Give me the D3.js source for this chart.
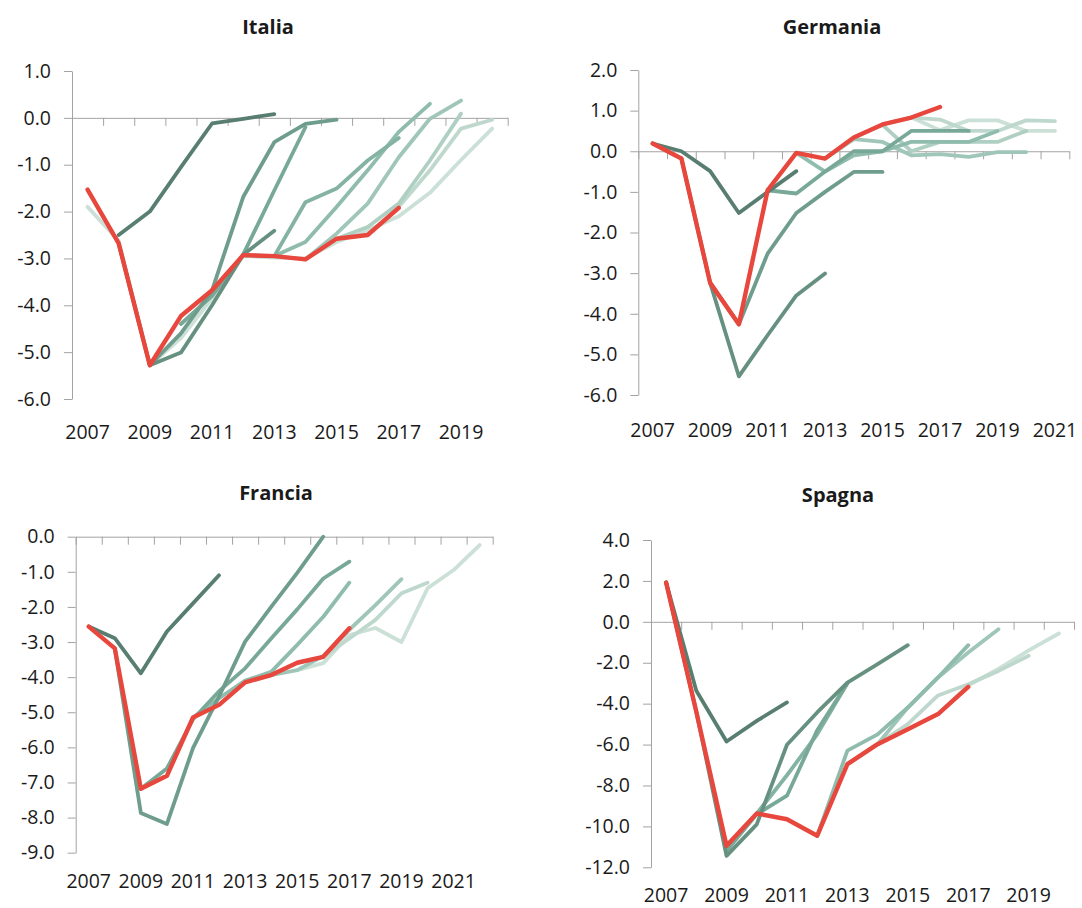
<!DOCTYPE html>
<html>
<head>
<meta charset="utf-8">
<script src="https://cdn.jsdelivr.net/npm/d3@7"></script>
<style>
  body { margin: 0; background: #fff; }
  text { font-family: "Open Sans", sans-serif; fill: #1a1a1a; }
</style>
</head>
<body>
<script>
// ---- data: deficit/PIL, valori effettivi (rosso) e previsioni successive (verde, dalla piu vecchia)

var italiaYears = [2007, 2008, 2009, 2010, 2011, 2012, 2013, 2014, 2015, 2016, 2017, 2018, 2019, 2020];
var italiaActual = [-1.53, -2.68, -5.28, -4.23, -3.68, -2.93, -2.95, -3.02, -2.58, -2.5, -1.92];
var italiaStarts = [2008, 2008, 2009, 2010, 2012, 2013, 2014, 2015, 2016, 2007];
var italiaSeries = [
  [-2.5, -2.0, -1.05, -0.12, -0.02, 0.08],
  [-2.68, -5.28, -5.01, -4.0, -2.92, -2.41],
  [-5.28, -4.6, -3.68, -1.69, -0.52, -0.13, -0.04],
  [-4.4, -3.8, -2.92, -1.55, -0.2],
  [-2.93, -2.95, -1.8, -1.51, -0.91, -0.43],
  [-2.95, -2.65, -1.9, -1.12, -0.3, 0.3],
  [-3.02, -2.47, -1.83, -0.84, -0.02, 0.37],
  [-2.58, -2.33, -1.83, -0.91, 0.09],
  [-2.5, -1.9, -1.12, -0.23, -0.04],
  [-1.9, -2.62, -5.28, -4.7, -3.85, -2.95, -2.98, -3.0, -2.65, -2.4, -2.1, -1.6, -0.9, -0.23]
];

var germaniaYears = [2007, 2008, 2009, 2010, 2011, 2012, 2013, 2014, 2015, 2016, 2017, 2018, 2019, 2020, 2021];
var germaniaActual = [0.19, -0.18, -3.24, -4.26, -0.96, -0.04, -0.18, 0.34, 0.66, 0.83, 1.09];
var germaniaStarts = [2007, 2008, 2009, 2011, 2012, 2013, 2014, 2015, 2016];
var germaniaSeries = [
  [0.19, 0.0, -0.49, -1.52, -1.0, -0.49],
  [-0.18, -3.24, -5.54, -4.53, -3.55, -3.01],
  [-3.24, -4.26, -2.52, -1.52, -1.0, -0.51, -0.51],
  [-0.96, -1.04, -0.5, 0.0, 0.0, 0.5, 0.5, 0.5],
  [-0.04, -0.5, -0.1, 0.0, 0.23, 0.23, 0.23, 0.5],
  [-0.18, 0.3, 0.23, -0.1, -0.07, -0.14, -0.02, -0.02],
  [0.34, 0.65, 0.0, 0.23, 0.23, 0.23, 0.5],
  [0.66, 0.83, 0.78, 0.5, 0.5, 0.76, 0.74],
  [0.83, 0.52, 0.76, 0.76, 0.5, 0.5]
];

var franciaYears = [2007, 2008, 2009, 2010, 2011, 2012, 2013, 2014, 2015, 2016, 2017, 2018, 2019, 2020, 2021, 2022];
var franciaActual = [-2.56, -3.18, -7.18, -6.81, -5.15, -4.79, -4.15, -3.94, -3.59, -3.42, -2.61];
var franciaStarts = [2007, 2008, 2009, 2011, 2014, 2015, 2015];
var franciaSeries = [
  [-2.56, -2.89, -3.89, -2.7, -1.9, -1.1],
  [-3.18, -7.87, -8.18, -6.02, -4.55, -2.99, -2.0, -1.03, 0.0],
  [-7.18, -6.6, -5.2, -4.4, -3.75, -2.9, -2.07, -1.19, -0.71],
  [-5.15, -4.6, -4.1, -3.85, -3.08, -2.28, -1.31],
  [-3.94, -3.8, -3.4, -2.65, -1.95, -1.21],
  [-3.59, -3.42, -2.9, -2.37, -1.61, -1.31],
  [-3.8, -3.6, -2.8, -2.6, -3.0, -1.47, -0.95, -0.24]
];

var spagnaYears = [2007, 2008, 2009, 2010, 2011, 2012, 2013, 2014, 2015, 2016, 2017, 2018, 2019, 2020];
var spagnaActual = [1.92, -4.4, -10.95, -9.37, -9.65, -10.46, -6.96, -5.98, -5.25, -4.51, -3.18];
var spagnaStarts = [2007, 2007, 2009, 2010, 2012, 2013, 2014, 2016];
var spagnaSeries = [
  [1.92, -3.37, -5.85, -4.84, -3.94],
  [1.92, -4.4, -11.44, -9.9, -6.01, -4.43, -2.97, -2.07, -1.14],
  [-11.2, -9.4, -8.5, -5.3, -3.0],
  [-9.37, -7.5, -5.5, -3.0],
  [-10.46, -6.3, -5.5, -4.19, -2.72, -1.14],
  [-6.96, -5.98, -4.19, -2.72, -1.5, -0.36],
  [-5.98, -5.0, -3.6, -3.05, -2.4, -1.66],
  [-4.51, -3.1, -2.3, -1.4, -0.57]
];

var italiaTicks = [1, 0, -1, -2, -3, -4, -5, -6];
var germaniaTicks = [2, 1, 0, -1, -2, -3, -4, -5, -6];
var franciaTicks = [0, -1, -2, -3, -4, -5, -6, -7, -8, -9];
var spagnaTicks = [4, 2, 0, -2, -4, -6, -8, -10, -12];

// sfumature verdi, dalla piu scura alla piu chiara
var greens = ["#587d71", "#66907f", "#6f9d8d", "#78a898", "#84b3a3", "#90bcad", "#9fc6b8", "#afcfc3", "#bfd8ce", "#cbe0d7"];

// ---- layout of the four panels
var panels = [
  {title: "Italia", years: italiaYears, actual: italiaActual, starts: italiaStarts, series: italiaSeries, ticks: italiaTicks,
   left: 72, right: 507.7, top: 71, bottom: 399, labelY: 439, titleX: 268, titleY: 34},
  {title: "Germania", years: germaniaYears, actual: germaniaActual, starts: germaniaStarts, series: germaniaSeries, ticks: germaniaTicks,
   left: 638.3, right: 1069.3, top: 70, bottom: 395, labelY: 437, titleX: 832, titleY: 34},
  {title: "Francia", years: franciaYears, actual: franciaActual, starts: franciaStarts, series: franciaSeries, ticks: franciaTicks,
   left: 75.7, right: 492.7, top: 536.7, bottom: 852.7, labelY: 888, titleX: 276, titleY: 500},
  {title: "Spagna", years: spagnaYears, actual: spagnaActual, starts: spagnaStarts, series: spagnaSeries, ticks: spagnaTicks,
   left: 651, right: 1074, top: 540, bottom: 867.3, labelY: 902, titleX: 838, titleY: 502}
];

var svg = d3.select("body").append("svg").attr("width", 1082).attr("height", 908);

panels.forEach(function(p) {
  var g = svg.append("g");

  var x = d3.scaleBand().domain(p.years).range([p.left, p.right]).padding(0);
  var bw = x.bandwidth();
  var y = d3.scaleLinear().domain([d3.min(p.ticks), d3.max(p.ticks)]).range([p.bottom, p.top]);

  // title
  g.append("text")
    .attr("x", p.titleX).attr("y", p.titleY)
    .attr("text-anchor", "middle")
    .style("font-size", "20px").style("font-weight", "bold")
    .text(p.title);

  // y axis
  var yAxis = g.append("g")
    .attr("transform", "translate(" + p.left + ",0)")
    .call(d3.axisLeft(y).tickValues(p.ticks).tickSize(8).tickSizeOuter(0).tickPadding(13)
      .tickFormat(function(d) { return d.toFixed(1); }));
  yAxis.selectAll("path, line").attr("stroke", "#a3a3a3");
  yAxis.selectAll("text").style("font-size", "19.5px").style("font-family", "Open Sans").attr("fill", "#1a1a1a");

  // x axis at zero, ticks between categories
  var xb = d3.scaleLinear().domain([0, p.years.length]).range([p.left, p.right]);
  var xAxis = g.append("g")
    .attr("transform", "translate(0," + y(0) + ")")
    .call(d3.axisBottom(xb).tickValues(d3.range(0, p.years.length + 1)).tickSize(8).tickSizeOuter(0).tickFormat(""));
  xAxis.selectAll("path, line").attr("stroke", "#a3a3a3");

  // year labels, every other year, at the bottom
  g.selectAll("text.year")
    .data(p.years.filter(function(d, i) { return i % 2 === 0; }))
    .enter().append("text")
      .attr("class", "year")
      .attr("x", function(d) { return x(d) + bw / 2; })
      .attr("y", p.labelY)
      .attr("text-anchor", "middle")
      .style("font-size", "19.5px")
      .text(function(d) { return d; });

  var line = d3.line()
    .x(function(d) { return x(d.year) + bw / 2; })
    .y(function(d) { return y(d.v); });

  function points(start, vals) {
    return vals.map(function(v, i) { return {year: start + i, v: v}; });
  }

  // forecasts: palest first so the older (darker) ones sit on top
  var n = p.series.length;
  for (var s = n - 1; s >= 0; s--) {
    var shade = greens[Math.round(s * (greens.length - 1) / (n - 1))];
    g.append("path")
      .attr("fill", "none")
      .attr("stroke", shade)
      .attr("stroke-width", 3.8)
      .attr("stroke-linecap", "round")
      .attr("stroke-linejoin", "round")
      .attr("d", line(points(p.starts[s], p.series[s])));
  }

  // actual values
  g.append("path")
    .attr("fill", "none")
    .attr("stroke", "#e8473e")
    .attr("stroke-width", 4.4)
    .attr("stroke-linecap", "round")
    .attr("stroke-linejoin", "round")
    .attr("d", line(points(p.years[0], p.actual)));
});
</script>
</body>
</html>
